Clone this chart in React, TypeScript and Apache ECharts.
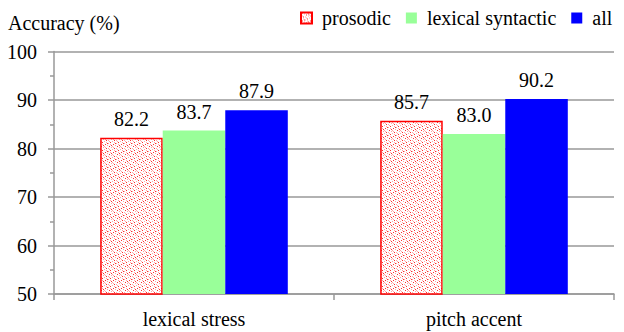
import React, { useEffect, useRef } from "react";
import * as echarts from "echarts";

// Categories, series and axis ticks
const categories = ["lexical stress", "pitch accent"];
const seriesNames = ["prosodic", "lexical syntactic", "all"];
const prosodic = [82.2, 85.7];
const lexicalSyntactic = [83.7, 83.0];
const allFeatures = [87.9, 90.2];
const yTicks = [50, 60, 70, 80, 90, 100];

const FONT = "Liberation Serif";

// Every chart text is set in the serif face
const pageCss = `
body { margin: 0; }
.acc-chart svg text { font-family: "Liberation Serif", "Times New Roman", serif !important; }
`;

// Small dotted tile used as the fill of the "prosodic" bars
function makeDotTile(): HTMLCanvasElement {
  const c = document.createElement("canvas");
  c.width = 8;
  c.height = 8;
  const ctx = c.getContext("2d")!;
  ctx.fillStyle = "#ffffff";
  ctx.fillRect(0, 0, 8, 8);
  const red: [number, number][] = [
    [1, 0], [5, 2], [2, 4], [6, 6], [7, 1], [3, 7],
  ];
  const pink: [number, number][] = [
    [3, 1], [0, 2], [7, 3], [4, 4], [0, 5], [5, 5], [2, 6], [6, 0], [4, 7], [1, 3],
  ];
  ctx.fillStyle = "#ffa6a6";
  pink.forEach(([x, y]) => ctx.fillRect(x, y, 1, 1));
  ctx.fillStyle = "#ff3030";
  red.forEach(([x, y]) => ctx.fillRect(x, y, 1, 1));
  return c;
}

export default function App() {
  const ref = useRef<HTMLDivElement>(null);

  useEffect(() => {
    document.body.style.margin = "0";
    if (!ref.current) return;
    const chart = echarts.init(ref.current, undefined, { renderer: "svg" });
    const dotPattern = { image: makeDotTile(), repeat: "repeat" };

    const label = {
      show: true,
      position: "top",
      distance: 9,
      color: "#000",
      fontFamily: FONT,
      fontSize: 20,
      formatter: (p: any) => Number(p.value).toFixed(1),
    };

    chart.setOption({
      animation: false,
      backgroundColor: "#ffffff",
      legend: {
        data: seriesNames,
        icon: "rect",
        left: 300,
        top: 8,
        padding: 0,
        itemWidth: 11,
        itemHeight: 11,
        itemGap: 15,
        textStyle: { fontFamily: FONT, fontSize: 20, color: "#000", padding: [0, 0, 0, 5] },
      },
      graphic: [
        {
          type: "text",
          left: 8,
          top: 13,
          style: { text: "Accuracy (%)", fontFamily: FONT, fontSize: 20, fill: "#000" },
        },
      ],
      grid: { left: 54, right: 10, top: 51.5, bottom: 38 },
      xAxis: {
        type: "category",
        data: categories,
        axisLine: { lineStyle: { color: "#999", width: 1.5 } },
        axisTick: { show: true, length: 6, lineStyle: { color: "#999", width: 1.5 } },
        axisLabel: { color: "#000", fontFamily: FONT, fontSize: 20, margin: 15 },
      },
      yAxis: {
        type: "value",
        min: yTicks[0],
        max: yTicks[yTicks.length - 1],
        interval: 10,
        axisLine: { show: true, lineStyle: { color: "#999", width: 1.5 } },
        axisTick: { show: true, length: 6, lineStyle: { color: "#999", width: 1.5 } },
        minorTick: { show: true, splitNumber: 2, length: 4, lineStyle: { color: "#999", width: 1.5 } },
        splitLine: { show: true, lineStyle: { color: "#999", width: 1.5 } },
        axisLabel: { color: "#000", fontFamily: FONT, fontSize: 20, margin: 17 },
      },
      series: [
        {
          name: seriesNames[0],
          type: "bar",
          data: prosodic,
          barGap: "0%",
          barCategoryGap: "33%",
          itemStyle: { color: dotPattern, borderColor: "#ff0000", borderWidth: 1.5 },
          label,
        },
        {
          name: seriesNames[1],
          type: "bar",
          data: lexicalSyntactic,
          itemStyle: { color: "#99ff99" },
          label,
        },
        {
          name: seriesNames[2],
          type: "bar",
          data: allFeatures,
          itemStyle: { color: "#0000ff" },
          label,
        },
      ],
    });

    return () => chart.dispose();
  }, []);

  return (
    <>
      <style>{pageCss}</style>
      <div className="acc-chart" ref={ref} style={{ width: 624, height: 332 }} />
    </>
  );
}
